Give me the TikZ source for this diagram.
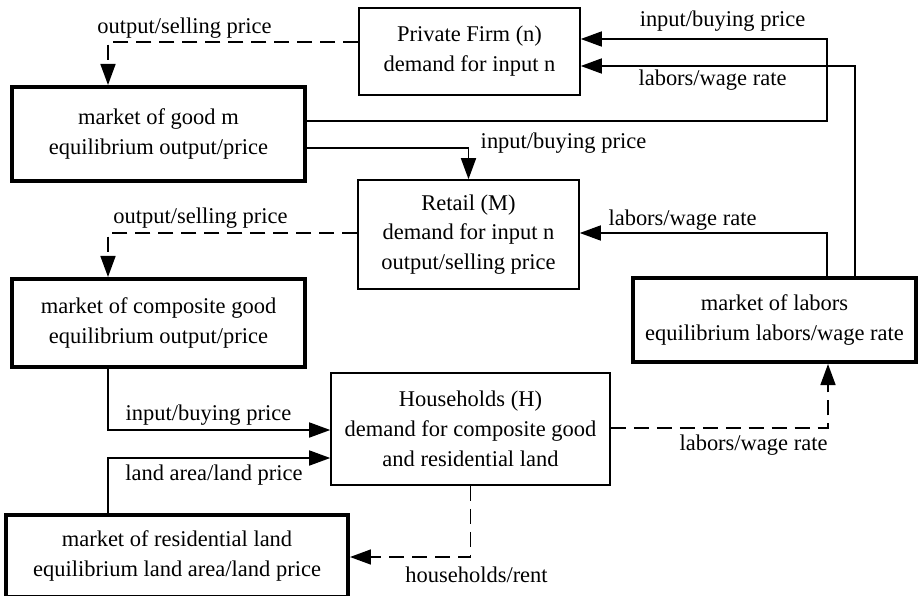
\documentclass[tikz,border=0pt]{standalone}
\usepackage{fontspec}
\setmainfont{Liberation Serif}
\usetikzlibrary{arrows.meta}

\begin{document}
\begin{tikzpicture}[x=0.02cm, y=-0.02cm,
  every node/.style={font=\fontsize{12.8}{17}\selectfont},
  box/.style={draw, line width=0.9pt, align=center, inner sep=0pt},
  mkt/.style={box, line width=2.3pt},
  flow/.style={line width=0.9pt, -{Triangle[length=0.42cm,width=0.3cm]}},
  dflow/.style={flow, dash pattern=on 0.3cm off 0.16cm},
  lbl/.style={anchor=base, inner sep=0pt}]
  \clip (0,0) rectangle (919,595);
  \node [box, minimum width=4.42cm, minimum height=1.74cm] (firm) at (469.5,51.5) {Private Firm (n)\\demand for input n};
  \node [mkt, minimum width=5.86cm, minimum height=1.88cm] (goodm) at (158.5,134) {market of good m\\equilibrium output/price};
  \node [box, minimum width=4.42cm, minimum height=2.18cm] (retail) at (468.5,234.5) {Retail (M)\\demand for input n\\output/selling price};
  \node [mkt, minimum width=5.86cm, minimum height=1.76cm] (comp) at (158.5,323) {market of composite good\\equilibrium output/price};
  \node [mkt, minimum width=5.66cm, minimum height=1.68cm] (labors) at (774.5,320) {market of labors\\equilibrium labors/wage rate};
  \node [box, minimum width=5.58cm, minimum height=2.24cm] (hh) at (470.5,429) {Households (H)\\demand for composite good\\and residential land};
  \node [mkt, minimum width=6.84cm, minimum height=1.64cm] (land) at (177,556) {market of residential land\\equilibrium land area/land price};
  \draw [dflow] (firm.west |- 0,42) -| (goodm.north -| 108,0);
  \draw [flow] (goodm.east |- 0,121) -| (827,39) -- (firm.east |- 0,39);
  \draw [flow] (labors.north -| 855,0) |- (firm.east |- 0,66);
  \draw [flow] (goodm.east |- 0,148) -| (retail.north);
  \draw [dflow] (retail.west |- 0,233) -| (comp.north -| 108,0);
  \draw [flow] (labors.north -| 827,0) |- (retail.east |- 0,233);
  \draw [flow] (comp.south -| 108,0) |- (hh.west |- 0,430);
  \draw [flow] (land.north -| 108,0) |- (hh.west |- 0,458);
  \draw [dflow] (hh.east |- 0,428) -| (labors.south -| 828,0);
  \draw [dflow] (hh.south) |- (land.east |- 0,557);
  \node [lbl] (l1) at (184.5,33) {output/selling price};
  \node [lbl] (l2) at (722.5,27) {input/buying price};
  \node [lbl] (l3) at (712.5,85) {labors/wage rate};
  \node [lbl] (l4) at (563.5,148) {input/buying price};
  \node [lbl] (l5) at (200.5,223) {output/selling price};
  \node [lbl] (l6) at (682.5,225) {labors/wage rate};
  \node [lbl] (l7) at (208.5,420) {input/buying price};
  \node [lbl] (l8) at (214,480) {land area/land price};
  \node [lbl] (l9) at (753.5,450) {labors/wage rate};
  \node [lbl] (l10) at (476.5,582) {households/rent};
\end{tikzpicture}
\end{document}
